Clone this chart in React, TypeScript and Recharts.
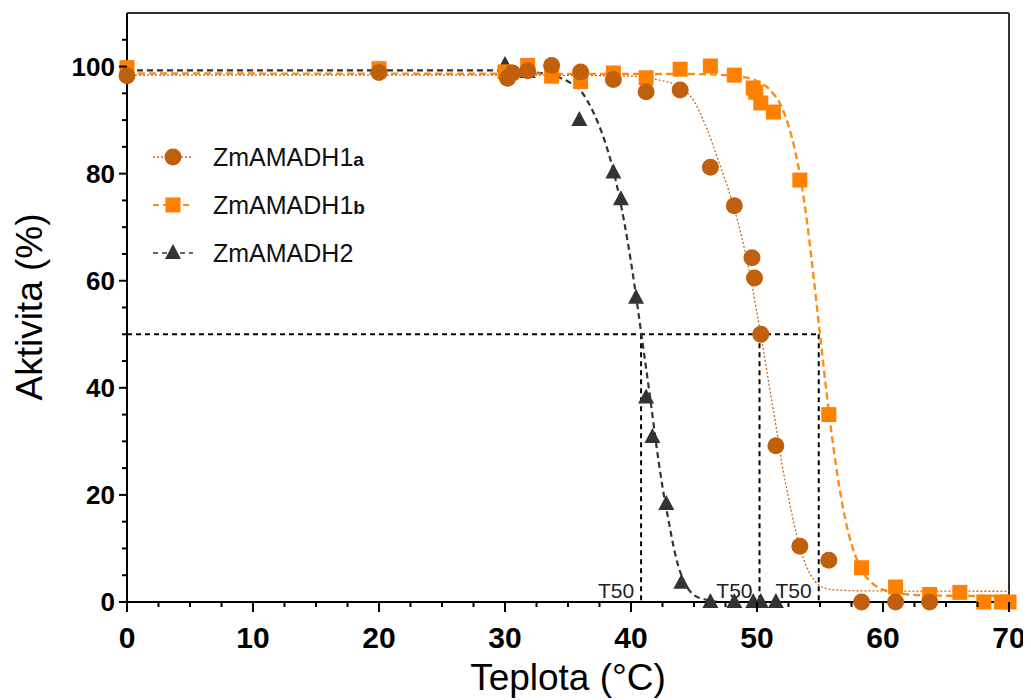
import { ComposedChart, Line, Scatter, XAxis, YAxis, ReferenceLine, Legend } from 'recharts'

const FONT = '"Liberation Sans", Arial, Helvetica, sans-serif'

// measured points (temperature °C, activity %)
const tempsA = [0, 20, 30.2, 30.6, 31.8, 33.7, 36, 38.6, 41.2, 43.9, 46.3, 48.2, 49.6, 49.8, 50.3, 51.5, 53.4, 55.7, 58.3, 61.0, 63.7]
const activityA = [98.3, 98.9, 97.8, 98.8, 99.2, 100.2, 99, 97.6, 95.3, 95.6, 81.2, 74, 64.3, 60.5, 50, 29.2, 10.4, 7.8, 0, 0, 0]

const tempsB = [0, 20, 30, 31.8, 33.7, 36, 38.6, 41.2, 43.9, 46.3, 48.2, 49.7, 49.9, 50.3, 51.3, 53.4, 55.7, 58.3, 61.0, 63.7, 66.1, 68.0, 69.4, 70]
const activityB = [99.8, 99.6, 99, 100.2, 98.2, 97.2, 98.8, 97.9, 99.5, 100.1, 98.4, 96, 95.2, 93.2, 91.5, 78.8, 35, 6.4, 2.8, 1.4, 1.8, 0, 0, 0]

const tempsC = [30, 31.8, 35.9, 38.6, 39.2, 40.4, 41.2, 41.7, 42.8, 44.0, 46.3, 48.2, 49.7, 50.3, 51.5]
const activityC = [100.3, 99, 90, 80.2, 75.2, 56.8, 38.2, 30.8, 18.3, 3.6, 0, 0, 0, 0, 0]

// fitted curves
const fitTempsA = [0, 30, 40, 42, 44, 45, 46, 47, 48, 49, 50, 50.3, 51, 51.5, 52, 52.5, 53, 53.5, 54, 54.5, 55, 56, 58, 70]
const fitA = [98.4, 98.4, 98.2, 97.6, 96, 93.5, 88.5, 82, 75, 66, 54, 50, 40, 33, 25.5, 19.5, 14, 9.5, 6.2, 4.2, 3.0, 2.3, 2.1, 2.0]

const fitTempsB = [0, 45, 48, 49, 50, 51, 52, 53, 53.5, 54, 54.5, 55, 55.5, 56, 56.5, 57, 57.5, 58, 58.5, 59, 60, 61, 62, 64, 70]
const fitB = [98.7, 98.6, 98.3, 98.0, 97.3, 95.7, 92.2, 84.5, 78.5, 70.5, 60.5, 50, 39.5, 30, 22, 15.5, 10.8, 7.5, 5.2, 3.8, 2.3, 1.7, 1.4, 1.2, 1.1]

const fitTempsC = [0, 30, 32, 34, 35, 36, 37, 38, 38.5, 39, 39.5, 40, 40.5, 41, 41.5, 42, 42.5, 43, 43.5, 44, 44.5, 45, 46, 47, 70]
const fitC = [99.3, 99.3, 99.0, 98.2, 97.2, 95.5, 91.5, 85.5, 81.5, 76.5, 70.5, 63.5, 55.5, 47, 38.5, 29.5, 21.5, 15, 9, 5, 2.6, 1.3, 0.4, 0, 0]

const t50 = [40.8, 50.2, 54.9]

const xTicks = [0, 2.5, 5, 7.5, 10, 12.5, 15, 17.5, 20, 22.5, 25, 27.5, 30, 32.5, 35, 37.5, 40, 42.5, 45, 47.5, 50, 52.5, 55, 57.5, 60, 62.5, 65, 67.5, 70]
const xLabels = [0, 10, 20, 30, 40, 50, 60, 70]
const yTicks = [0, 5, 10, 15, 20, 25, 30, 35, 40, 45, 50, 55, 60, 65, 70, 75, 80, 85, 90, 95, 100, 105]
const yLabels = [0, 20, 40, 60, 80, 100]

const seriesNames = ['ZmAMADH1', 'ZmAMADH1', 'ZmAMADH2']
const seriesSuffix = ['a', 'b', '']

const COL_A = '#C0600C'
const COL_A_LINE = '#C86A20'
const COL_B = '#FF8000'
const COL_B_LINE = '#FF8C1A'
const COL_C = '#333333'

const zip = (ts: number[], vs: number[]) => ts.map((t, i) => ({ t, v: vs[i] }))

const pointsA = zip(tempsA, activityA)
const pointsB = zip(tempsB, activityB)
const pointsC = zip(tempsC, activityC)
const curveA = zip(fitTempsA, fitA)
const curveB = zip(fitTempsB, fitB)
const curveC = zip(fitTempsC, fitC)

const circleShape = (p: any) =>
  p.cx == null ? <g /> : <circle cx={p.cx} cy={p.cy} r={8.5} fill={COL_A} />
const squareShape = (p: any) =>
  p.cx == null ? <g /> : <rect x={p.cx - 7.5} y={p.cy - 7.5} width={15} height={15} fill={COL_B} />
const triangleShape = (p: any) =>
  p.cx == null ? <g /> : (
    <path d={`M${p.cx},${p.cy - 9} L${p.cx + 8},${p.cy + 6} L${p.cx - 8},${p.cy + 6} Z`} fill={COL_C} />
  )

function XTick(props: any) {
  const { x, y, payload } = props
  const major = xLabels.includes(payload.value)
  return (
    <g>
      <line x1={x} x2={x} y1={y} y2={y + (major ? 10 : 5)} stroke="#000" strokeWidth={2} />
      {major && (
        <text x={x} y={y + 46} textAnchor="middle" fontSize={30} fontWeight="bold" fontFamily={FONT} fill="#000">
          {payload.value}
        </text>
      )}
    </g>
  )
}

function YTick(props: any) {
  const { x, y, payload } = props
  const major = yLabels.includes(payload.value)
  return (
    <g>
      <line x1={x - (major ? 8 : 5)} x2={x} y1={y} y2={y} stroke="#000" strokeWidth={2} />
      {major && (
        <text x={x - 12} y={y + 9} textAnchor="end" fontSize={26} fontWeight="bold" fontFamily={FONT} fill="#000">
          {payload.value}
        </text>
      )}
    </g>
  )
}

function renderLegend() {
  const rows = [
    { color: COL_A_LINE, dash: '2 2', width: 1.3, marker: 'circle' },
    { color: COL_B_LINE, dash: '6 4', width: 2, marker: 'square' },
    { color: COL_C, dash: '5 4', width: 1.6, marker: 'triangle' },
  ]
  return (
    <svg width={300} height={150}>
      {rows.map((r, i) => {
        const cy = 24 + i * 48
        return (
          <g key={i}>
            <line x1={5} x2={45} y1={cy} y2={cy} stroke={r.color} strokeWidth={r.width} strokeDasharray={r.dash} />
            {r.marker === 'circle' && circleShape({ cx: 25, cy })}
            {r.marker === 'square' && squareShape({ cx: 25, cy })}
            {r.marker === 'triangle' && triangleShape({ cx: 25, cy })}
            <text x={65} y={cy + 9} fontSize={25} fontFamily={FONT} fill="#111">
              {seriesNames[i]}
              {seriesSuffix[i] && (
                <tspan fontWeight="bold" fontSize={19}>
                  {seriesSuffix[i]}
                </tspan>
              )}
            </text>
          </g>
        )
      })}
    </svg>
  )
}

const t50Label = (p: any) => {
  const vb = p.viewBox
  if (!vb) return null
  return (
    <text x={vb.x - 7} y={vb.y + vb.height - 4} textAnchor="end" fontSize={21} fontFamily={FONT} fill="#222">
      T50
    </text>
  )
}

export default function App() {
  return (
    <ComposedChart width={1023} height={692} margin={{ top: 5, right: 22, bottom: 0, left: 0 }}>
      <XAxis
        type="number"
        dataKey="t"
        domain={[0, 70]}
        ticks={xTicks}
        interval={0}
        tick={XTick}
        tickLine={false}
        tickSize={0}
        tickMargin={0}
        axisLine={{ stroke: '#000', strokeWidth: 2 }}
        height={98}
        label={{
          content: (p: any) => {
            const vb = p.viewBox || { x: 119, y: 594, width: 882 }
            return (
              <text x={vb.x + vb.width / 2} y={vb.y + 88} textAnchor="middle" fontSize={37} fontFamily={FONT} fill="#000">
                Teplota (°C)
              </text>
            )
          },
        }}
      />
      <YAxis
        type="number"
        domain={[0, 110]}
        ticks={yTicks}
        interval={0}
        tick={YTick}
        tickLine={false}
        tickSize={0}
        tickMargin={0}
        axisLine={{ stroke: '#000', strokeWidth: 2 }}
        width={119}
        label={{
          content: () => (
            <text x={34} y={299} transform="rotate(-90 34 299)" textAnchor="middle" fontSize={37} fontFamily={FONT} fill="#000">
              Aktivita (%)
            </text>
          ),
        }}
      />
      <ReferenceLine y={110} stroke="#333" strokeWidth={2} />
      <ReferenceLine x={70} stroke="#333" strokeWidth={2} />
      <ReferenceLine
        segment={[{ x: 0, y: 50 }, { x: Math.max(...t50), y: 50 }]}
        stroke="#000"
        strokeWidth={2}
        strokeDasharray="5 4"
      />
      {t50.map((t) => (
        <ReferenceLine
          key={t}
          segment={[{ x: t, y: 50 }, { x: t, y: 0 }]}
          stroke="#000"
          strokeWidth={2}
          strokeDasharray="5 4"
          label={{ content: t50Label }}
        />
      ))}
      <Line data={curveC} dataKey="v" type="monotone" stroke={COL_C} strokeWidth={2.2} strokeDasharray="6 4" dot={false} activeDot={false} isAnimationActive={false} legendType="none" />
      <Line data={curveB} dataKey="v" type="monotone" stroke={COL_B_LINE} strokeWidth={2.4} strokeDasharray="7 4" dot={false} activeDot={false} isAnimationActive={false} legendType="none" />
      <Line data={curveA} dataKey="v" type="monotone" stroke={COL_A_LINE} strokeWidth={1.3} strokeDasharray="2 2" dot={false} activeDot={false} isAnimationActive={false} legendType="none" />
      <Scatter data={pointsC} dataKey="v" shape={triangleShape} isAnimationActive={false} />
      <Scatter data={pointsB} dataKey="v" shape={squareShape} isAnimationActive={false} />
      <Scatter data={pointsA} dataKey="v" shape={circleShape} isAnimationActive={false} />
      <Legend
        layout="vertical"
        align="center"
        verticalAlign="middle"
        content={renderLegend}
        wrapperStyle={{ position: 'absolute', left: 140, top: 125, width: 300, height: 150 }}
      />
    </ComposedChart>
  )
}
